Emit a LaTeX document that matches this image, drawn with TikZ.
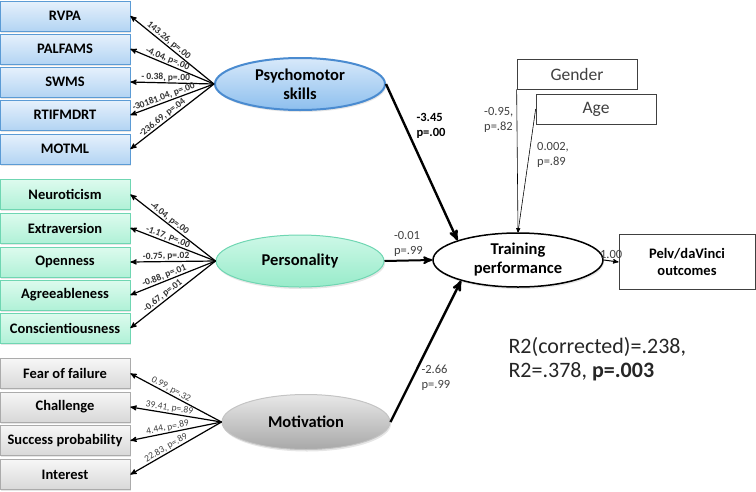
\documentclass[tikz,border=0pt]{standalone}
\usepackage{fontspec}
\setmainfont{Carlito}
\usetikzlibrary{calc}
\usetikzlibrary{arrows}
\usetikzlibrary{shapes.geometric}
\usetikzlibrary{shadows}
\definecolor{psyline}{HTML}{5B9BD5}
\definecolor{psytop}{HTML}{E6F1FC}
\definecolor{psybot}{HTML}{B3D4F3}
\definecolor{psyedge}{HTML}{4A8BD0}
\definecolor{psyetop}{HTML}{D8E9FA}
\definecolor{psyebot}{HTML}{8DBFEE}
\definecolor{perline}{HTML}{6FD6B2}
\definecolor{pertop}{HTML}{DDFBEE}
\definecolor{perbot}{HTML}{B0F1D7}
\definecolor{peretop}{HTML}{CDF8E7}
\definecolor{perebot}{HTML}{98EBCA}
\definecolor{motline}{HTML}{ABABAB}
\definecolor{mottop}{HTML}{F6F6F6}
\definecolor{motbot}{HTML}{D8D8D8}
\definecolor{motetop}{HTML}{E8E8E8}
\definecolor{motebot}{HTML}{A8A8A8}
\definecolor{lbltxt}{HTML}{404040}

\begin{document}
\begin{tikzpicture}[x=1pt,y=-1pt,>=stealth',
 varbox/.style={draw, minimum width=130pt, minimum height=30pt, inner sep=0pt, line width=0.8pt,
   font=\fontsize{14.5}{16}\selectfont\bfseries, drop shadow={opacity=0.2, shadow xshift=1pt, shadow yshift=-1.5pt}},
 psybox/.style={varbox, draw=psyline, top color=psytop, bottom color=psybot},
 perbox/.style={varbox, draw=perline, top color=pertop, bottom color=perbot},
 motbox/.style={varbox, draw=motline, top color=mottop, bottom color=motbot},
 latent/.style={ellipse, minimum width=168pt, minimum height=52pt, inner sep=0pt, align=center,
   font=\fontsize{16.5}{19}\selectfont\bfseries, drop shadow={opacity=0.2, shadow xshift=1pt, shadow yshift=-2pt}},
 load/.style={<-, line width=1.2pt},
 coef/.style={pos=0.42, sloped, above, font=\fontsize{9.5}{10}\selectfont\bfseries, text=black!80, inner sep=0.6pt},
 coefm/.style={coef, font=\fontsize{9.5}{10}\selectfont, text=lbltxt},
 path/.style={->, line width=2.4pt},
 pathlbl/.style={font=\fontsize{12.5}{15}\selectfont, text=lbltxt, align=left, inner sep=1pt},
 ctrlbox/.style={draw=lbltxt, fill=white, minimum width=120pt, minimum height=30pt, inner sep=0pt,
   font=\fontsize{17.5}{19}\selectfont, text=lbltxt, line width=0.7pt}]
\useasboundingbox (0,0) rectangle (756,491);

% latent variables
\node[latent, draw=psyedge, line width=2pt, top color=psyetop, bottom color=psyebot, minimum width=170pt] (psych) at (300,84) {Psychomotor\\skills};
\node[latent, draw=perline, line width=1pt, top color=peretop, bottom color=perebot] (person) at (300,261) {Personality};
\node[latent, draw=motline!70, line width=1pt, top color=motetop, bottom color=motebot, minimum height=55pt] (motiv) at (306,422) {Motivation};
\node[latent, draw, line width=1.5pt, fill=white, minimum width=170pt, minimum height=54pt, drop shadow={opacity=0}] (train) at (518,260) {Training\\performance};

% psychomotor skills
\foreach \nm/\txt/\y/\val in {rvpa/RVPA/16/{143.26, p=.00}, palfams/PALFAMS/49/{-4.04, p=.00},
  swms/SWMS/82/{- 0.38, p=.00}, rtifmdrt/RTIFMDRT/115/{-30181.04, p=.00}, motml/MOTML/149/{-236.69, p=.04}} {
 \node[psybox] (\nm) at (65,\y) {\txt};
 \draw[load] (\nm.east) -- (psych.west) node[coef] {\val};
}

% personality
\foreach \nm/\txt/\y/\val in {neuro/Neuroticism/194.5/{-4.04, p=.00}, extra/Extraversion/228/{-1.17, P=.00},
  open/Openness/262/{-0.75, p=.02}, agree/Agreeableness/295/{-0.88, p=.01}, consc/Conscientiousness/328/{-0.67, p=.01}} {
 \node[perbox] (\nm) at (65,\y) {\txt};
 \draw[load] (\nm.east) -- (person.west) node[coef] {\val};
}

% motivation
\foreach \nm/\txt/\y/\val in {fear/Fear of failure/373.5/{0.99, p=.32}, chall/Challenge/407/{39.41, p=.89},
  succ/Success probability/440.5/{4.44, p=.89}, inter/Interest/474.5/{22.83, p=.89}} {
 \node[motbox] (\nm) at (65,\y) {\txt};
 \draw[load] (\nm.east) -- (motiv.west) node[coefm] {\val};
}

% structural paths
\draw[path] (psych.east) -- (train.162) node[pos=0.27, right=9pt, pathlbl, font=\fontsize{12.5}{15}\selectfont\bfseries, text=black] {-3.45\\p=.00};
\draw[->, line width=2pt] (person.east) -- (train.west) node[midway, above=2pt, pathlbl] {-0.01\\p=.99};
\draw[path] (motiv.east) -- (train.200) node[pos=0.31, right=7pt, pathlbl] {-2.66\\p=.99};

% outcome
\node[draw=lbltxt, line width=0.8pt, minimum width=136pt, minimum height=55pt, align=center,
  font=\fontsize{14.5}{17}\selectfont\bfseries] (pelv) at (687,262) {Pelv/daVinci\\outcomes};
\draw[->, line width=1pt] (train.east) -- (pelv.west) node[midway, above=1pt, pathlbl] {1.00};

% covariates
\node[ctrlbox] (gender) at (577,74) {Gender};
\node[ctrlbox] (age) at (596,109) {Age};
\draw[->, line width=0.6pt] (gender.south west) -- (train.north);
\draw[->, line width=0.6pt] (age.west) -- (train.north);
\node[pathlbl, anchor=north west] (genlbl) at (483,106) {-0.95,\\p=.82};
\node[pathlbl, anchor=north west] (agelbl) at (536,141) {0.002,\\p=.89};

% fit
\node[anchor=west, align=left, font=\fontsize{22}{24}\selectfont, text=black!85] (rsq) at (505,359)
  {R2(corrected)=.238,\\R2=.378, \textbf{p=.003}};
\end{tikzpicture}
\end{document}
